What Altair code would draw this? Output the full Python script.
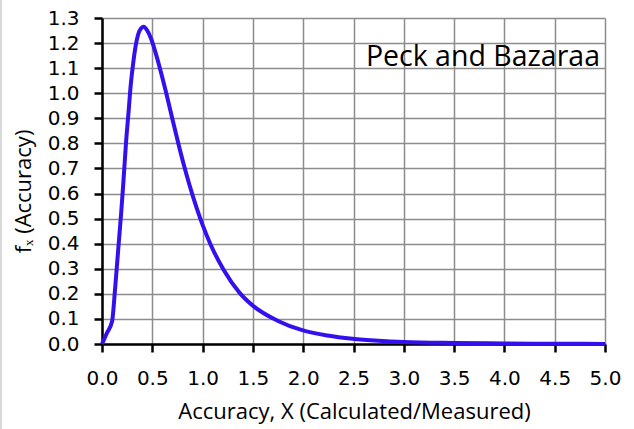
import altair as alt
import pandas as pd

# Accuracy ratio (calculated / measured) and its probability density
accuracy = [0, 0.05, 0.1, 0.13, 0.15, 0.17, 0.19, 0.21, 0.24, 0.265, 0.285, 0.31, 0.335,
            0.36, 0.39, 0.414, 0.45, 0.49, 0.53, 0.572, 0.639, 0.704, 0.771, 0.837,
            0.903, 0.96, 1.0, 1.076, 1.21, 1.366, 1.49, 1.75, 1.99, 2.24, 2.49,
            2.75, 3.0, 3.5, 4.0, 4.5, 5.0]
density = [0, 0.045, 0.09, 0.22, 0.32, 0.42, 0.52, 0.63, 0.81, 0.93, 1.03, 1.12, 1.19,
           1.235, 1.26, 1.265, 1.25, 1.215, 1.165, 1.105, 1.00, 0.89, 0.78, 0.68,
           0.59, 0.52, 0.475, 0.40, 0.295, 0.205, 0.156, 0.092, 0.055, 0.034, 0.021,
           0.013, 0.008, 0.004, 0.002, 0.001, 0.0005]

x_ticks = [i * 0.5 for i in range(11)]
y_ticks = [round(i * 0.1, 1) for i in range(14)]

df = pd.DataFrame({"x": accuracy, "y": density})

AXIS_FONT = "DejaVu Sans"
TITLE_FONT = "Open Sans"
GRID = "#8c8c8c"


def axis(title, values, label_padding, **title_pos):
    return alt.Axis(
        title=title,
        values=values,
        format=".1f",
        labelFont=AXIS_FONT,
        labelFontSize=20,
        labelColor="#000000",
        labelPadding=label_padding,
        labelOverlap=False,
        labelFlush=False,
        tickSize=8,
        tickWidth=2.5,
        tickColor="#000000",
        domainColor="#000000",
        domainWidth=2.5,
        grid=True,
        gridColor=GRID,
        gridWidth=1.5,
        titleFont=TITLE_FONT,
        titleFontSize=22,
        titleFontWeight="normal",
        titleColor="#000000",
        titleBaseline="middle",
        titleAlign="center",
        **title_pos,
    )


curve = alt.Chart(df).mark_line(
    color="#3311ee", strokeWidth=4, interpolate="monotone"
).encode(
    x=alt.X("x:Q", scale=alt.Scale(domain=[0, 5], nice=False, zero=True),
            axis=axis("Accuracy, X (Calculated/Measured)", x_ticks, 16,
                      titleX=252, titleY=67)),
    y=alt.Y("y:Q", scale=alt.Scale(domain=[0, 1.3], nice=False, zero=True),
            axis=axis("f\u2093 (Accuracy)", y_ticks, 15,
                      titleX=-79, titleY=173, titleAngle=270)),
)

# Series name placed in the upper right corner of the plot area
label = alt.Chart(pd.DataFrame({"t": ["Peck and Bazaraa"]})).mark_text(
    font=TITLE_FONT, fontSize=28.5, align="right", baseline="alphabetic", color="#000000"
).encode(
    x=alt.value(498),
    y=alt.value(48),
    text="t:N",
)

# Thin frame line along the left edge of the chart area
frame = alt.Chart(pd.DataFrame({"k": [0]})).mark_rule(
    color="#d9d9d9", strokeWidth=2
).encode(
    x=alt.value(-101),
    y=alt.value(-18),
    y2=alt.value(411),
)

chart = (
    alt.layer(curve, label, frame)
    .properties(
        width=503,
        height=326,
        autosize=alt.AutoSizeParams(type="none"),
        padding={"left": 102, "top": 18, "right": 29, "bottom": 85},
        background="#ffffff",
    )
    .configure_view(stroke="transparent")
)

chart.save("out.html", embed_options={"renderer": "svg", "actions": False})
